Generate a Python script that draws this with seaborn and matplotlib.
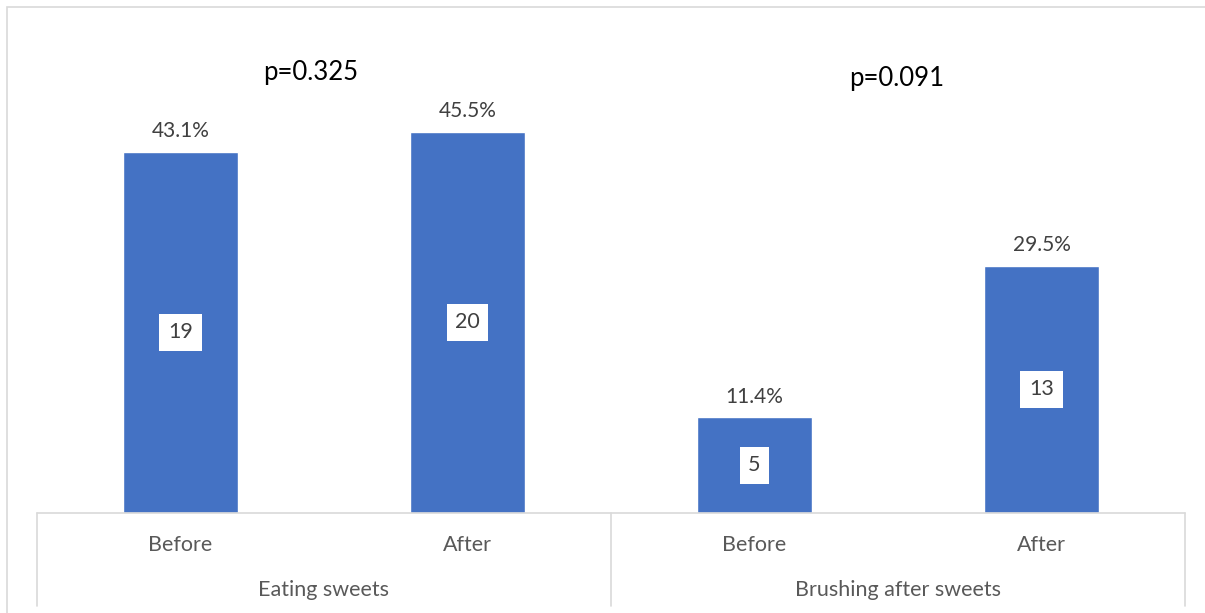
import matplotlib
matplotlib.use("Agg")
import matplotlib.pyplot as plt
import matplotlib.transforms as mtransforms
from matplotlib.patches import Rectangle
import seaborn as sns
import pandas as pd

# Chart data
groups = ["Eating sweets", "Eating sweets", "Brushing after sweets", "Brushing after sweets"]
phases = ["Before", "After", "Before", "After"]
counts = [19, 20, 5, 13]
percents = [43.1, 45.5, 11.4, 29.5]
group_names = ["Eating sweets", "Brushing after sweets"]
p_values = ["p=0.325", "p=0.091"]

sns.set_theme(style="white")
plt.rcParams["font.family"] = ["Lato", "DejaVu Sans"]

W, H = 1205, 613
fig = plt.figure(figsize=(W / 100, H / 100), dpi=100)
ax = fig.add_axes([37 / W, (H - 513) / H, (1185 - 37) / W, (513 - 10) / H])

df = pd.DataFrame({
    "slot": [f"{g}|{p}" for g, p in zip(groups, phases)],
    "pct": percents,
})
sns.barplot(data=df, x="slot", y="pct", order=list(df["slot"]), color="#4472C4",
            saturation=1, width=0.4, ax=ax)

ax.set_ylim(0, 60)
ax.set_xlim(-0.5, len(percents) - 0.5)
ax.set_xlabel("")
ax.set_ylabel("")
ax.set_xticks([])
ax.set_yticks([])
for s in ax.spines.values():
    s.set_visible(False)

txt = "#404040"
for i, (pct, n) in enumerate(zip(percents, counts)):
    ax.text(i, pct + 1.3, f"{pct:.1f}%", ha="center", va="bottom", fontsize=15, color=txt)
    ax.text(i, pct / 2, f"{n}", ha="center", va="center", fontsize=15.5, color=txt,
            bbox=dict(boxstyle="square,pad=0.4", fc="white", ec="none"))

# p-values above each group
p_offsets = [-0.045, -0.005]
p_heights = [52.6, 51.8]
for g, (p, dx, yh) in enumerate(zip(p_values, p_offsets, p_heights)):
    ax.text(2 * g + 0.5 + dx, yh, p, ha="center", va="center", fontsize=18.5, color="black")

# Two-level category axis
trans = mtransforms.blended_transform_factory(ax.transData, fig.transFigure)
line_c = "#D9D9D9"
y_base = (H - 513) / H
y_low = (H - 606) / H
ax.plot([-0.5, 3.5], [y_base, y_base], transform=trans, color=line_c, lw=1.2, clip_on=False)
for xv in [-0.5, 1.5, 3.5]:
    ax.plot([xv, xv], [y_base, y_low], transform=trans, color=line_c, lw=1.2, clip_on=False)

lab_c = "#595959"
for i, ph in enumerate(phases):
    ax.text(i, (H - 545) / H, ph, transform=trans, ha="center", va="center",
            fontsize=15.5, color=lab_c)
for g, name in enumerate(group_names):
    ax.text(2 * g + 0.5, (H - 590) / H, name, transform=trans, ha="center", va="center",
            fontsize=15.5, color=lab_c)

# Outer chart border (runs past the right and bottom edges)
fig.patches.append(Rectangle((7 / W, -0.05), 1.05, (H - 7) / H + 0.05,
                             transform=fig.transFigure, fill=False, ec=line_c, lw=1.2))

fig.savefig("out.png", dpi=100, facecolor="white")
